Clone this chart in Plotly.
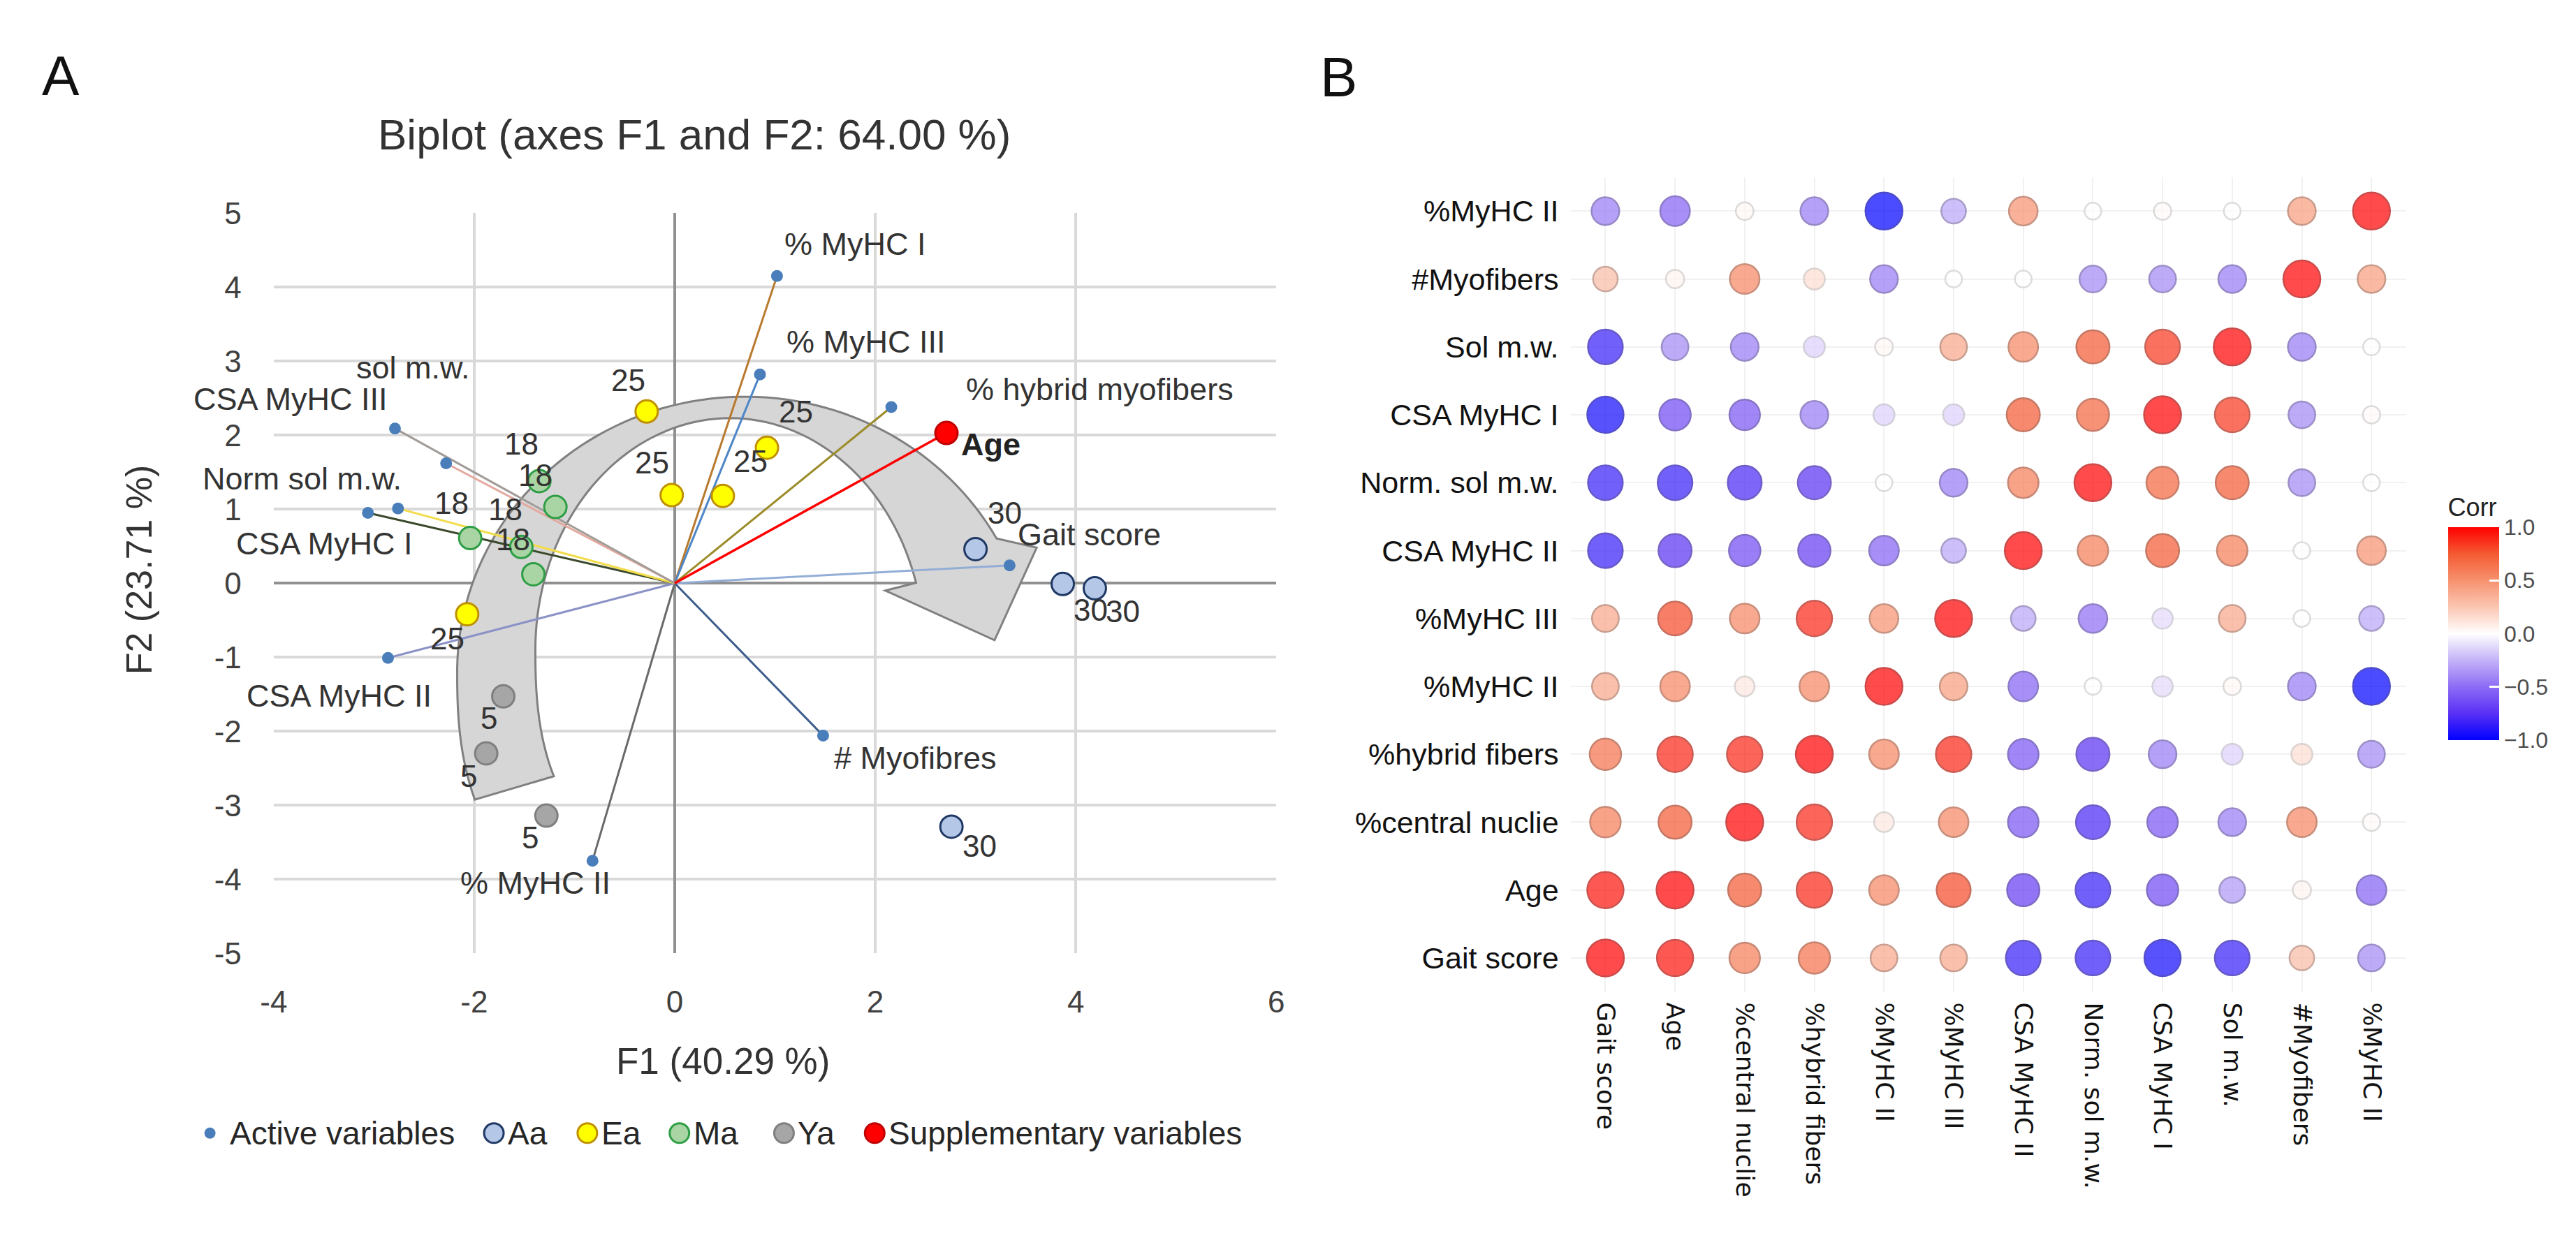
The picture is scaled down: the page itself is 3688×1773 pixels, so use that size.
import numpy as np
import plotly.graph_objects as go

W, H = 3688, 1773
FONT = "Liberation Sans, Arial, sans-serif"
FONT_B = "DejaVu Sans, sans-serif"

# ---------------- Panel A data (PCA biplot) ----------------
var_names = ["% MyHC I", "% MyHC III", "% hybrid myofibers", "Gait score", "# Myofibres",
             "% MyHC II", "CSA MyHC II", "CSA MyHC I", "Norm sol m.w.", "sol m.w.", "CSA MyHC III"]
var_f1 = [1.02, 0.85, 2.16, 3.34, 1.48, -0.82, -2.86, -3.06, -2.76, -2.28, -2.79]
var_f2 = [4.15, 2.82, 2.38, 0.24, -2.06, -3.75, -1.01, 0.95, 1.01, 1.62, 2.09]

sup_names = ["Age"]
sup_f1 = [2.71]
sup_f2 = [2.03]

aa_f1 = [3.00, 3.87, 4.19, 2.76]
aa_f2 = [0.46, -0.01, -0.07, -3.29]
aa_labels = ["30", "30", "30", "30"]
ea_f1 = [-0.28, 0.92, -0.03, 0.48, -2.07]
ea_f2 = [2.32, 1.83, 1.19, 1.18, -0.42]
ea_labels = ["25", "25", "25", "25", "25"]
ma_f1 = [-1.35, -1.19, -2.04, -1.53, -1.41]
ma_f2 = [1.38, 1.03, 0.61, 0.49, 0.12]
ma_labels = ["18", "18", "18", "18", "18"]
ya_f1 = [-1.71, -1.88, -1.28]
ya_f2 = [-1.53, -2.30, -3.14]
ya_labels = ["5", "5", "5"]

x_ticks_a = [-4, -2, 0, 2, 4, 6]
y_ticks_a = [-5, -4, -3, -2, -1, 0, 1, 2, 3, 4, 5]

legend_names = ["Active variables", "Aa", "Ea", "Ma", "Ya", "Supplementary variables"]

# ---------------- Panel B data (correlation matrix) ----------------
corr_vars = ["Gait score", "Age", "%central nuclie", "%hybrid fibers", "%MyHC II", "%MyHC III",
             "CSA MyHC II", "Norm. sol m.w.", "CSA MyHC I", "Sol m.w.", "#Myofibers", "%MyHC II"]
r_gait    = [1.00, 0.95, 0.60, 0.65, 0.40, 0.40, -0.85, -0.85, -0.95, -0.85, 0.30, -0.40]
r_age     = [0.95, 1.00, 0.75, 0.90, 0.55, 0.80, -0.70, -0.85, -0.65, -0.35, 0.05, -0.55]
r_central = [0.60, 0.75, 1.00, 0.90, 0.10, 0.55, -0.60, -0.80, -0.60, -0.45, 0.55, 0.02]
r_hybrid  = [0.65, 0.90, 0.90, 1.00, 0.55, 0.90, -0.60, -0.75, -0.45, -0.15, 0.15, -0.40]
r_myhc2   = [0.40, 0.55, 0.10, 0.55, 1.00, 0.45, -0.55, 0.00, -0.12, 0.03, -0.45, -1.00]
r_myhc3   = [0.40, 0.80, 0.55, 0.90, 0.50, 1.00, -0.30, -0.50, -0.12, 0.40, 0.00, -0.30]
r_csa2    = [-0.85, -0.75, -0.65, -0.70, -0.55, -0.30, 1.00, 0.60, 0.75, 0.60, 0.00, 0.50]
r_norm    = [-0.85, -0.85, -0.80, -0.75, 0.00, -0.45, 0.60, 1.00, 0.70, 0.75, -0.40, 0.00]
r_csa1    = [-0.95, -0.65, -0.60, -0.45, -0.15, -0.15, 0.75, 0.70, 1.00, 0.85, -0.40, 0.02]
r_sol     = [-0.85, -0.40, -0.45, -0.15, 0.03, 0.40, 0.55, 0.75, 0.85, 1.00, -0.45, 0.00]
r_myof    = [0.30, 0.05, 0.55, 0.15, -0.45, 0.00, 0.00, -0.40, -0.40, -0.45, 1.00, 0.45]
r_myhc1   = [-0.45, -0.55, 0.03, -0.45, -1.00, -0.30, 0.50, 0.00, 0.02, 0.00, 0.45, 1.00]
corr_rows = [r_gait, r_age, r_central, r_hybrid, r_myhc2, r_myhc3,
             r_csa2, r_norm, r_csa1, r_sol, r_myof, r_myhc1]   # bottom -> top

# ---------------- styles ----------------
var_line_colors = {
    "% MyHC I": "#b87a2e", "% MyHC III": "#4f86c6", "% hybrid myofibers": "#9c8c2a",
    "Gait score": "#93aed6", "# Myofibres": "#3c5d8c", "% MyHC II": "#6a6a6a",
    "CSA MyHC II": "#8b93c6", "CSA MyHC I": "#3b4a2c", "Norm sol m.w.": "#f2dc4c",
    "sol m.w.": "#e4aaa0", "CSA MyHC III": "#a29c98",
}
var_label_shift = {
    "% MyHC I": (112, 46), "% MyHC III": (152, 47), "% hybrid myofibers": (298, 25),
    "Gait score": (114, 44), "# Myofibres": (132, -32), "% MyHC II": (-82, -32),
    "CSA MyHC II": (-70, -54), "CSA MyHC I": (-62, -44), "Norm sol m.w.": (-137, 43),
    "sol m.w.": (-47, 137), "CSA MyHC III": (-150, 42),
}
aa_shift = [(42, 52), (40, -37), (40, -33), (40, -28)]
ea_shift = [(-26, 45), (41, 52), (-28, 47), (40, 50), (-28, -35)]
ma_shift = [(-26, 53), (-29, 46), (-27, 50), (-23, 54), (-29, 50)]
ya_shift = [(-21, -31), (-25, -33), (-23, -31)]

group_style = {
    "Aa": ("#b4c7e7", "#1f3864"),
    "Ea": ("#ffff00", "#bf9000"),
    "Ma": ("#a9d5a4", "#2e9e45"),
    "Ya": ("#a6a6a6", "#7f7f7f"),
    "Supplementary variables": ("#ff0000", "#c00000"),
}
ACTIVE_COLOR = "#4a7ebb"
legend_marker_px = [275, 685, 820, 953, 1104, 1235]
legend_y_px = 1635

fig = go.Figure()

for n, fx, fy in zip(var_names, var_f1, var_f2):
    fig.add_trace(go.Scatter(x=[0, fx], y=[0, fy], mode="lines",
                             line=dict(color=var_line_colors[n], width=3),
                             showlegend=False, hoverinfo="skip", xaxis="x", yaxis="y"))
for n, fx, fy in zip(sup_names, sup_f1, sup_f2):
    fig.add_trace(go.Scatter(x=[0, fx], y=[0, fy], mode="lines",
                             line=dict(color="#ff0000", width=3.5),
                             showlegend=False, hoverinfo="skip", xaxis="x", yaxis="y"))

fig.add_trace(go.Scatter(x=var_f1, y=var_f2, mode="markers", name="Active variables",
                         marker=dict(size=17, color=ACTIVE_COLOR), showlegend=False,
                         xaxis="x", yaxis="y"))
for name, gx, gy in [("Aa", aa_f1, aa_f2), ("Ea", ea_f1, ea_f2),
                     ("Ma", ma_f1, ma_f2), ("Ya", ya_f1, ya_f2)]:
    fc, lc = group_style[name]
    fig.add_trace(go.Scatter(x=gx, y=gy, mode="markers", name=name, showlegend=False,
                             marker=dict(size=32, color=fc, line=dict(color=lc, width=3)),
                             xaxis="x", yaxis="y"))
fc, lc = group_style["Supplementary variables"]
fig.add_trace(go.Scatter(x=sup_f1, y=sup_f2, mode="markers", name="Supplementary variables",
                         showlegend=False,
                         marker=dict(size=32, color=fc, line=dict(color=lc, width=3)),
                         xaxis="x", yaxis="y"))

annotations = []
lab_font = dict(family=FONT, size=45, color="#333333")
for n, fx, fy in zip(var_names, var_f1, var_f2):
    dx, dy = var_label_shift[n]
    annotations.append(dict(x=fx, y=fy, xref="x", yref="y", text=n, showarrow=False,
                            xanchor="center", yanchor="middle",
                            xshift=dx, yshift=dy, font=lab_font))
for n, fx, fy in zip(sup_names, sup_f1, sup_f2):
    annotations.append(dict(x=fx, y=fy, xref="x", yref="y", text="<b>%s</b>" % n, showarrow=False,
                            xanchor="center", yanchor="middle", xshift=64, yshift=-16,
                            font=dict(family=FONT, size=45, color="#222222")))
pt_font = dict(family=FONT, size=44, color="#333333")
for gx, gy, gl, gs in [(aa_f1, aa_f2, aa_labels, aa_shift), (ea_f1, ea_f2, ea_labels, ea_shift),
                       (ma_f1, ma_f2, ma_labels, ma_shift), (ya_f1, ya_f2, ya_labels, ya_shift)]:
    for fx, fy, t, (dx, dy) in zip(gx, gy, gl, gs):
        annotations.append(dict(x=fx, y=fy, xref="x", yref="y", text=t, showarrow=False,
                                xanchor="center", yanchor="middle",
                                xshift=dx, yshift=dy, font=pt_font))

# ---------------- curved grey block arrow (decoration) ----------------
def arc(cx, cy, rx, ry, t0, t1, n_low=2.5, n=90):
    t = np.radians(np.linspace(t0, t1, n))
    c, s = np.cos(t), np.sin(t)
    e = np.where(s < 0, 2.0 / n_low, 1.0)
    x = cx + rx * np.sign(c) * np.abs(c) ** e
    y = cy + ry * np.sign(s) * np.abs(s) ** e
    return x, y

ox, oy = arc(0.70, -1.20, 2.87, 3.72, 202.5, 29)
ix, iy = arc(0.55, -0.90, 1.94, 3.13, 16.8, 208)
head = [(3.61, 0.48), (3.19, -0.77), (2.10, -0.10)]
pts = list(zip(ox, oy)) + head + list(zip(ix, iy))
path = "M " + " L ".join("%.4f,%.4f" % p for p in pts) + " Z"
shapes = [dict(type="path", path=path, xref="x", yref="y", layer="between",
               fillcolor="#d6d6d6", line=dict(color="#808080", width=3))]

# ---------------- manual legend (panel A) ----------------
for i, name in enumerate(legend_names):
    cx = legend_marker_px[i] / W
    cy = 1 - legend_y_px / H
    if name == "Active variables":
        r, fcol, lcol, lw, gap = 8, ACTIVE_COLOR, ACTIVE_COLOR, 0, 27
    else:
        fcol, lcol = group_style[name]
        r, lw, gap = 14, 3, 18
    shapes.append(dict(type="circle", xref="paper", yref="paper", xsizemode="pixel",
                       ysizemode="pixel", xanchor=cx, yanchor=cy, x0=-r, x1=r, y0=-r, y1=r,
                       fillcolor=fcol, line=dict(color=lcol, width=lw), layer="above"))
    annotations.append(dict(x=(legend_marker_px[i] + gap) / W, y=cy, xref="paper", yref="paper",
                            text=name, showarrow=False, xanchor="left", yanchor="middle",
                            font=dict(family=FONT, size=46, color="#262626")))

# ---------------- Panel B ----------------
cscale = [[0.0, "#0000ff"], [0.125, "#5a30f5"], [0.25, "#8c6cf5"], [0.375, "#c4b2f8"],
          [0.5, "#ffffff"], [0.625, "#fbc6b2"], [0.75, "#f7916e"], [0.875, "#f45a32"],
          [1.0, "#ff0000"]]

def hex2rgb(h):
    return np.array([int(h[k:k + 2], 16) for k in (1, 3, 5)], dtype=float)

def scale_color(v):
    t = (v + 1) / 2
    for (t0, c0), (t1, c1) in zip(cscale[:-1], cscale[1:]):
        if t <= t1:
            f = (t - t0) / (t1 - t0) if t1 > t0 else 0
            return hex2rgb(c0) * (1 - f) + hex2rgb(c1) * f
    return hex2rgb(cscale[-1][1])

xs, ys, vs = [], [], []
for i, row in enumerate(corr_rows):
    for j, v in enumerate(row):
        xs.append(j); ys.append(i); vs.append(v)
vs = np.array(vs)
sizes = np.sqrt(24 ** 2 + (53 ** 2 - 24 ** 2) * np.abs(vs))
outline = []
for v in vs:
    c = scale_color(v)
    if abs(v) < 0.2:
        d = np.array([175, 175, 175]) * 0.6 + c * 0.4
    else:
        d = c * 0.72
    outline.append("rgb(%d,%d,%d)" % tuple(d.astype(int)))

fig.add_trace(go.Scatter(
    x=xs, y=ys, mode="markers", showlegend=False, xaxis="x2", yaxis="y2",
    marker=dict(size=sizes, color=vs, cmin=-1, cmax=1, colorscale=cscale,
                line=dict(color=outline, width=2.5),
                colorbar=dict(x=3507 / W, xanchor="left", y=1 - 875.5 / H, yanchor="middle",
                              len=351, lenmode="pixels", thickness=73, thicknessmode="pixels",
                              outlinewidth=0, tickvals=[-1, -0.5, 0, 0.5, 1], tickformat=".1f",
                              ticks="inside", ticklen=14, tickwidth=3, tickcolor="white",
                              xpad=0, ypad=0,
                              tickfont=dict(family=FONT, size=32, color="#4d4d4d"),
                              title=dict(text="Corr", side="top",
                                         font=dict(family=FONT, size=36, color="#222222"))))))

# ---------------- text annotations ----------------
annotations += [
    dict(x=60 / W, y=1 - 78 / H, xref="paper", yref="paper", text="A", showarrow=False,
         xanchor="center", yanchor="middle", font=dict(family=FONT, size=80, color="#111111")),
    dict(x=1905 / W, y=1 - 80 / H, xref="paper", yref="paper", text="B", showarrow=False,
         xanchor="center", yanchor="middle", font=dict(family=FONT, size=80, color="#111111")),
    dict(x=974 / W, y=1 - 164 / H, xref="paper", yref="paper",
         text="Biplot (axes F1 and F2: 64.00 %)", showarrow=False,
         xanchor="center", yanchor="middle", font=dict(family=FONT, size=62, color="#333333")),
    dict(x=1016 / W, y=1 - 1529 / H, xref="paper", yref="paper", text="F1 (40.29 %)",
         showarrow=False, xanchor="center", yanchor="middle",
         font=dict(family=FONT, size=53, color="#333333")),
    dict(x=172 / W, y=1 - 805 / H, xref="paper", yref="paper", text="F2 (23.71 %)",
         showarrow=False, textangle=-90, xanchor="center", yanchor="middle",
         font=dict(family=FONT, size=52, color="#333333")),
]

fig.update_layout(
    width=W, height=H, autosize=False,
    margin=dict(l=0, r=0, t=0, b=0),
    paper_bgcolor="white", plot_bgcolor="white",
    showlegend=False,
    xaxis=dict(domain=[367 / W, 1815 / W], range=[-4, 6], tickvals=x_ticks_a,
               ticktext=[str(v) for v in x_ticks_a], showgrid=True, gridcolor="#d9d9d9",
               gridwidth=3.5, zeroline=True, zerolinecolor="#909090", zerolinewidth=3.5,
               showline=False, ticks="", ticklabelstandoff=40,
               tickfont=dict(family=FONT, size=44, color="#404040")),
    yaxis=dict(domain=[1 - 1370 / H, 1 - 280 / H], range=[-5, 5], tickvals=y_ticks_a,
               ticktext=[str(v) for v in y_ticks_a], showgrid=True, gridcolor="#d9d9d9",
               gridwidth=3.5, zeroline=True, zerolinecolor="#909090", zerolinewidth=3.5,
               showline=False, ticks="", ticklabelstandoff=45,
               tickfont=dict(family=FONT, size=44, color="#404040")),
    xaxis2=dict(domain=[2240 / W, 3447 / W], range=[-0.5, 11.5], tickvals=list(range(12)),
                ticktext=corr_vars, tickangle=90, showgrid=True, gridcolor="#f1f1f1",
                gridwidth=2, zeroline=False, showline=False, ticks="", ticklabelstandoff=14,
                tickfont=dict(family=FONT_B, size=36, color="#111111"), anchor="y2"),
    yaxis2=dict(domain=[1 - 1427 / H, 1 - 227 / H], range=[-0.5, 11.5], tickvals=list(range(12)),
                ticktext=corr_vars, showgrid=True, gridcolor="#f1f1f1", gridwidth=2,
                zeroline=False, showline=False, ticks="", ticklabelstandoff=16,
                tickfont=dict(family=FONT, size=43, color="#111111"), anchor="x2"),
    annotations=annotations,
    shapes=shapes,
)

fig.write_html("out.html")
